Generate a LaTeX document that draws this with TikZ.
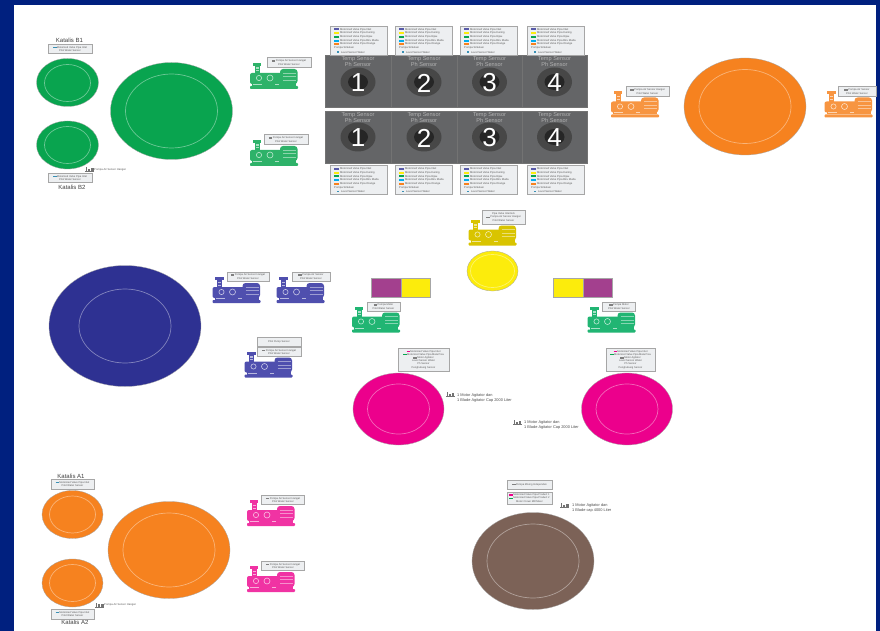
\documentclass[tikz,border=0pt]{standalone}
\usepackage{fontspec}
\setmainfont{Liberation Sans}
\usetikzlibrary{shapes.geometric}
\definecolor{framenavy}{HTML}{00207F}
\definecolor{tankgreen}{HTML}{09A44F}
\definecolor{tankorange}{HTML}{F6821F}
\definecolor{tankblue}{HTML}{2E3192}
\definecolor{tankyellow}{HTML}{FCEC0C}
\definecolor{tankpink}{HTML}{EC008C}
\definecolor{tankbrown}{HTML}{7C6257}
\definecolor{panelgray}{HTML}{646567}
\definecolor{blockpurple}{HTML}{A3408E}
\definecolor{pumpyellow}{HTML}{D9C400}
\definecolor{pumpblue}{HTML}{4F4FAE}
\definecolor{pumpaqua}{HTML}{21B573}
\definecolor{boxgray}{HTML}{EDEFF1}
\newcommand{\lgmark}[1]{\textcolor{#1}{\rule{3.5pt}{1.4pt}}\,}
\tikzset{
	tank/.style={ellipse, inner sep=0pt, draw=black!35, line width=0.3pt},
	tankring/.style={ellipse, inner sep=0pt, draw=white, draw opacity=0.4, line width=0.7pt},
	legend/.style={draw=black!35, fill=boxgray, line width=0.5pt, inner sep=0pt, align=center, text=black!65, font=\fontsize{2.6}{3.4}\selectfont},
	title/.style={inner sep=0pt, text=black!75, font=\fontsize{6}{7}\selectfont},
	note/.style={inner sep=0pt, align=left, text=black!70, font=\fontsize{3.9}{4.6}\selectfont},
	smallnote/.style={inner sep=0pt, text=black!65, font=\fontsize{2.7}{3.2}\selectfont},
	panel/.style={fill=panelgray, draw=black!55, line width=0.4pt, minimum width=65.5pt, minimum height=52pt, inner sep=0pt},
	paneltext/.style={inner sep=0pt, align=center, text=black!30, font=\fontsize{5.6}{6}\selectfont},
	numeral/.style={inner sep=0pt, text=white, font=\fontsize{26}{26}\selectfont},
	block/.style={draw=black!35, line width=0.4pt, minimum width=29.5pt, minimum height=18.5pt, inner sep=0pt},
	pics/pumpicon/.style={code={
		\fill[pic actions, rounded corners=0.8pt] (0,23) rectangle (48,26);
		\fill[pic actions] (2,20) rectangle (46,23);
		\fill[pic actions] (2.5,0) rectangle (11,3);
		\fill[pic actions] (4.5,3) rectangle (9.5,12);
		\fill[pic actions, rounded corners=2pt] (0,10) rectangle (33,21);
		\fill[pic actions, rounded corners=3pt] (30,6) rectangle (47.5,21);
		\fill[white, fill opacity=0.6] (5.5,4.5) rectangle (8.5,6);
		\fill[white, fill opacity=0.6] (5.5,7.5) rectangle (8.5,8.5);
		\draw[white, draw opacity=0.7, line width=0.6pt] (9,15) circle (2.6);
		\draw[white, draw opacity=0.7, line width=0.6pt] (20,15) circle (3);
		\draw[white, draw opacity=0.45, line width=0.4pt] (33,10) -- (46,10);
		\draw[white, draw opacity=0.45, line width=0.4pt] (33,13.5) -- (46,13.5);
		\draw[white, draw opacity=0.45, line width=0.4pt] (33,17) -- (46,17);
		\fill[white, fill opacity=0.6] (25,21) rectangle (29,22);
		\fill[white, fill opacity=0.6] (3,21) rectangle (12,22);
	}},
	pics/noteicon/.style={code={
		\fill[black!55] (0,4) rectangle (9,5);
		\fill[black!55] (1,0) rectangle (2.4,4);
		\fill[black!55] (3.4,1.5) rectangle (5,4);
		\fill[black!55] (6,1) rectangle (8.5,4);
	}},
	pics/valvebox/.style={code={
		\node[legend, minimum width=57pt, minimum height=29pt] at (28.5,14.5) {};
		\fill[tankblue!80] (4,2.5) rectangle (9,4.5);
		\fill[tankyellow] (4,6.2) rectangle (9,8.2);
		\fill[tankgreen] (4,9.9) rectangle (9,11.9);
		\fill[cyan] (4,13.6) rectangle (9,15.6);
		\fill[tankorange] (4,17.3) rectangle (9,19.3);
		\fill[cyan!70!black] (7,25.3) rectangle (9,27);
		\node[smallnote, anchor=west] at (10,3.5) {Motorized Valve Pipa Inlet};
		\node[smallnote, anchor=west] at (10,7.2) {Motorized Valve Pipa Kuning};
		\node[smallnote, anchor=west] at (10,10.9) {Motorized Valve Pipa Hijau};
		\node[smallnote, anchor=west] at (10,14.6) {Motorized Valve Pipa Biru Muda};
		\node[smallnote, anchor=west] at (10,18.3) {Motorized Valve Pipa Orange};
		\node[smallnote, anchor=west] at (4,22.3) {Pompa Sirkulasi};
		\node[smallnote, anchor=west] at (11,26.1) {Level Sensor Water};
	}}
}
\begin{document}
\begin{tikzpicture}[x=1pt, y=-1pt]
	\useasboundingbox (0,0) rectangle (880,631);
	\fill[framenavy] (0,0) rectangle (880,631);
	\fill[white] (14,5) rectangle (876,631);

	% katalis B
	\node[tank, fill=tankgreen, minimum width=62pt, minimum height=48pt] (tankb1) at (67.5,82.5) {};
	\node[tankring, minimum width=46pt, minimum height=37pt] (ringb1) at (67.5,83) {};
	\node[tank, fill=tankgreen, minimum width=62pt, minimum height=48pt] (tankb2) at (67.5,145) {};
	\node[tankring, minimum width=46pt, minimum height=37pt] (ringb2) at (67.5,145) {};
	\node[tank, fill=tankgreen, minimum width=122pt, minimum height=97pt] (tankbmain) at (171.5,111) {};
	\node[tankring, minimum width=92pt, minimum height=74pt] (ringbmain) at (171.5,111) {};
	\node[title] (titleb1) at (69.5,40.5) {Katalis B1};
	\node[legend, minimum width=44pt, minimum height=9.5pt] (legendb1) at (70,49) {\lgmark{cyan!70!black}Motorized Valve Pipa Inlet\\Pilot Water Sensor};
	\node[title] (titleb2) at (72,187) {Katalis B2};
	\node[legend, minimum width=44pt, minimum height=9.5pt] (legendb2) at (70,178) {\lgmark{cyan!70!black}Motorized Valve Pipa Inlet\\Pilot Water Sensor};
	\pic (iconb) at (85,167.5) {noteicon};
	\node[smallnote, anchor=west] (noteb) at (94,170) {Pompa Air Sensor Hangat};
	\pic[fill=tankgreen!85!white] (pumpb1) at (250,63) {pumpicon};
	\node[legend, minimum width=44pt, minimum height=9.5pt] (labelb1) at (289,62.5) {\lgmark{black!50}Pompa Air Sensor Hangat\\Pilot Water Sensor};
	\pic[fill=tankgreen!85!white] (pumpb2) at (250,140) {pumpicon};
	\node[legend, minimum width=44pt, minimum height=9.5pt] (labelb2) at (286,139.5) {\lgmark{black!50}Pompa Air Sensor Hangat\\Pilot Water Sensor};

	% panel sensor
	\node[panel] (panela1) at (358,81) {};
	\node[panel] (panela2) at (424,81) {};
	\node[panel] (panela3) at (489.5,81) {};
	\node[panel] (panela4) at (554.5,81) {};
	\node[panel] (panelb1) at (358,137.5) {};
	\node[panel] (panelb2) at (424,137.5) {};
	\node[panel] (panelb3) at (489.5,137.5) {};
	\node[panel] (panelb4) at (554.5,137.5) {};
	\fill[black!72] (358,82) ellipse (17.5pt and 14.5pt);
	\fill[black!85] (358,82) ellipse (10pt and 8pt);
	\fill[black!72] (424,82) ellipse (17.5pt and 14.5pt);
	\fill[black!85] (424,82) ellipse (10pt and 8pt);
	\fill[black!72] (489.5,82) ellipse (17.5pt and 14.5pt);
	\fill[black!85] (489.5,82) ellipse (10pt and 8pt);
	\fill[black!72] (554.5,82) ellipse (17.5pt and 14.5pt);
	\fill[black!85] (554.5,82) ellipse (10pt and 8pt);
	\fill[black!72] (358,137) ellipse (17.5pt and 14.5pt);
	\fill[black!85] (358,137) ellipse (10pt and 8pt);
	\fill[black!72] (424,137) ellipse (17.5pt and 14.5pt);
	\fill[black!85] (424,137) ellipse (10pt and 8pt);
	\fill[black!72] (489.5,137) ellipse (17.5pt and 14.5pt);
	\fill[black!85] (489.5,137) ellipse (10pt and 8pt);
	\fill[black!72] (554.5,137) ellipse (17.5pt and 14.5pt);
	\fill[black!85] (554.5,137) ellipse (10pt and 8pt);
	\node[numeral] (numa1) at (358,83) {1};
	\node[numeral] (numa2) at (424,83) {2};
	\node[numeral] (numa3) at (489.5,83) {3};
	\node[numeral] (numa4) at (554.5,83) {4};
	\node[numeral] (numb1) at (358,138) {1};
	\node[numeral] (numb2) at (424,138) {2};
	\node[numeral] (numb3) at (489.5,138) {3};
	\node[numeral] (numb4) at (554.5,138) {4};
	\node[paneltext] (texta1) at (358,62) {Temp Sensor\\Ph Sensor};
	\node[paneltext] (texta2) at (424,62) {Temp Sensor\\Ph Sensor};
	\node[paneltext] (texta3) at (489.5,62) {Temp Sensor\\Ph Sensor};
	\node[paneltext] (texta4) at (554.5,62) {Temp Sensor\\Ph Sensor};
	\node[paneltext] (textb1) at (358,117.5) {Temp Sensor\\Ph Sensor};
	\node[paneltext] (textb2) at (424,117.5) {Temp Sensor\\Ph Sensor};
	\node[paneltext] (textb3) at (489.5,117.5) {Temp Sensor\\Ph Sensor};
	\node[paneltext] (textb4) at (554.5,117.5) {Temp Sensor\\Ph Sensor};
	\pic (boxa1) at (330,26) {valvebox};
	\pic (boxa2) at (395,26) {valvebox};
	\pic (boxa3) at (460,26) {valvebox};
	\pic (boxa4) at (527,26) {valvebox};
	\pic (boxb1) at (330,165.5) {valvebox};
	\pic (boxb2) at (395,165.5) {valvebox};
	\pic (boxb3) at (460,165.5) {valvebox};
	\pic (boxb4) at (527,165.5) {valvebox};

	% orange kanan atas
	\node[tank, fill=tankorange, minimum width=122pt, minimum height=97pt] (tankc) at (745,106.5) {};
	\node[tankring, minimum width=92pt, minimum height=74pt] (ringc) at (745,106.5) {};
	\pic[fill=tankorange!85!white] (pumpc1) at (611,91.5) {pumpicon};
	\node[legend, minimum width=43pt, minimum height=9.5pt] (labelc1) at (647.5,91.5) {\lgmark{black!50}Pompa Air Sensor Hangat\\Pilot Water Sensor};
	\pic[fill=tankorange!85!white] (pumpc2) at (824.5,91.5) {pumpicon};
	\node[legend, minimum width=38pt, minimum height=9.5pt] (labelc2) at (857,91.5) {\lgmark{black!50}Pompa Air Sensor\\Pilot Water Sensor};

	% biru
	\node[tank, fill=tankblue, minimum width=152pt, minimum height=121pt] (tankd) at (125,326) {};
	\node[tankring, minimum width=92pt, minimum height=74pt] (ringd) at (125,326) {};
	\pic[fill=pumpblue] (pumpd1) at (212.5,277) {pumpicon};
	\node[legend, minimum width=42pt, minimum height=9.5pt] (labeld1) at (248,276.5) {\lgmark{black!50}Pompa Air Sensor Hangat\\Pilot Water Sensor};
	\pic[fill=pumpblue] (pumpd2) at (276.5,277) {pumpicon};
	\node[legend, minimum width=38pt, minimum height=9.5pt] (labeld2) at (311,276.5) {\lgmark{black!50}Pompa Air Sensor\\Pilot Water Sensor};
	\node[legend, minimum width=44pt, minimum height=9pt] (labeld3) at (279,341.5) {Pilot Pump Sensor};
	\pic[fill=pumpblue] (pumpd3) at (244.5,351.5) {pumpicon};
	\node[legend, minimum width=44pt, minimum height=9pt] (labeld4) at (279,352) {\lgmark{black!50}Pompa Air Sensor Hangat\\Pilot Water Sensor};

	% tengah
	\pic[fill=pumpyellow] (pumpe) at (468.5,219.5) {pumpicon};
	\node[legend, minimum width=43pt, minimum height=14pt] (labele) at (503.5,217) {Pipa Valve Interlock\\\lgmark{black!50}Pompa Air Sensor Hangat\\Pilot Water Sensor};
	\node[tank, fill=tankyellow, minimum width=51pt, minimum height=40pt] (tanke) at (492.5,271) {};
	\node[tankring, minimum width=44pt, minimum height=33pt] (ringe) at (492.5,271) {};
	\node[block, fill=blockpurple] (blockl1) at (386,287.5) {};
	\node[block, fill=tankyellow] (blockl2) at (415.5,287.5) {};
	\node[block, fill=tankyellow] (blockr1) at (568,287.5) {};
	\node[block, fill=blockpurple] (blockr2) at (597.5,287.5) {};
	\pic[fill=pumpaqua] (pumpf1) at (352,306.5) {pumpicon};
	\node[legend, minimum width=33pt, minimum height=9.5pt] (labelf1) at (383.5,306.5) {\lgmark{black!50}Pompa Motor\\Pilot Water Sensor};
	\pic[fill=pumpaqua] (pumpf2) at (587.5,306.5) {pumpicon};
	\node[legend, minimum width=33pt, minimum height=9.5pt] (labelf2) at (619,306.5) {\lgmark{black!50}Pompa Motor\\Pilot Water Sensor};

	% pink
	\node[tank, fill=tankpink, minimum width=91pt, minimum height=72pt] (tankg1) at (398.5,409) {};
	\node[tankring, minimum width=62pt, minimum height=50pt] (ringg1) at (398.5,409) {};
	\node[tank, fill=tankpink, minimum width=91pt, minimum height=72pt] (tankg2) at (627,409) {};
	\node[tankring, minimum width=62pt, minimum height=50pt] (ringg2) at (627,409) {};
	\node[legend, minimum width=51pt, minimum height=23pt, font=\fontsize{2.6}{3.2}\selectfont] (labelg1) at (423.5,359.5) {\lgmark{tankpink}Motorized Valve Pipa Inlet\\\lgmark{tankgreen}Motorized Valve Pipa Mata Pisa\\\lgmark{black!50}Motor Agitator\\Level Sensor Water\\Ph Sensor\\Penghubung Sensor};
	\node[legend, minimum width=49pt, minimum height=23pt, font=\fontsize{2.6}{3.2}\selectfont] (labelg2) at (630.5,359.5) {\lgmark{tankpink}Motorized Valve Pipa Inlet\\\lgmark{tankgreen}Motorized Valve Pipa Mata Pisa\\\lgmark{black!50}Motor Agitator\\Level Sensor Water\\Ph Sensor\\Penghubung Sensor};
	\pic (icong1) at (445.5,392) {noteicon};
	\node[note, anchor=west] (noteg1) at (457,398) {1 Motor Agitator dan\\1 Blade Agitator Cap 2000 Liter};
	\pic (icong2) at (512.5,420) {noteicon};
	\node[note, anchor=west] (noteg2) at (524,425) {1 Motor Agitator dan\\1 Blade Agitator Cap 2000 Liter};

	% katalis A
	\node[tank, fill=tankorange, minimum width=61pt, minimum height=48pt] (tanka1) at (72.5,514.5) {};
	\node[tankring, minimum width=46pt, minimum height=37pt] (ringa1) at (72.5,514.5) {};
	\node[tank, fill=tankorange, minimum width=61pt, minimum height=48pt] (tanka2) at (72.5,583) {};
	\node[tankring, minimum width=46pt, minimum height=37pt] (ringa2) at (72.5,583) {};
	\node[tank, fill=tankorange, minimum width=122pt, minimum height=97pt] (tankamain) at (169,550) {};
	\node[tankring, minimum width=92pt, minimum height=74pt] (ringamain) at (169,550) {};
	\node[title] (titlea1) at (71,476) {Katalis A1};
	\node[legend, minimum width=43pt, minimum height=9.5pt] (legenda1) at (72.5,484) {\lgmark{cyan!70!black}Motorized Valve Pipa Inlet\\Pilot Water Sensor};
	\node[title] (titlea2) at (75,622.5) {Katalis A2};
	\node[legend, minimum width=43pt, minimum height=9.5pt] (legenda2) at (72.5,614) {\lgmark{cyan!70!black}Motorized Valve Pipa Inlet\\Pilot Water Sensor};
	\pic (icona) at (95,602.5) {noteicon};
	\node[smallnote, anchor=west] (notea) at (104,605) {Pompa Air Sensor Hangat};
	\pic[fill=tankpink!80!white] (pumpa1) at (247,500) {pumpicon};
	\node[legend, minimum width=43pt, minimum height=9pt] (labela1) at (283,500) {\lgmark{black!50}Pompa Air Sensor Hangat\\Pilot Water Sensor};
	\pic[fill=tankpink!80!white] (pumpa2) at (247,566) {pumpicon};
	\node[legend, minimum width=43pt, minimum height=9pt] (labela2) at (283,566) {\lgmark{black!50}Pompa Air Sensor Hangat\\Pilot Water Sensor};

	% coklat
	\node[tank, fill=tankbrown, minimum width=122pt, minimum height=97pt] (tankh) at (533,561) {};
	\node[tankring, minimum width=92pt, minimum height=74pt] (ringh) at (533,561) {};
	\node[legend, minimum width=45pt, minimum height=9pt] (labelh1) at (529.5,484.5) {\lgmark{black!50}Pompa Mixing Independen};
	\node[legend, minimum width=45pt, minimum height=12.5pt] (labelh2) at (529.5,498) {\lgmark{tankpink}Motorized Valve Pipa Product 1\\\lgmark{tankgreen}Motorized Valve Pipa Product 2\\Motor Crown Mill Mixer};
	\pic (iconh) at (560,503) {noteicon};
	\node[note, anchor=west] (noteh) at (572,508) {1 Motor Agitator dan\\1 Blade cap 4000 Liter};
\end{tikzpicture}
\end{document}
